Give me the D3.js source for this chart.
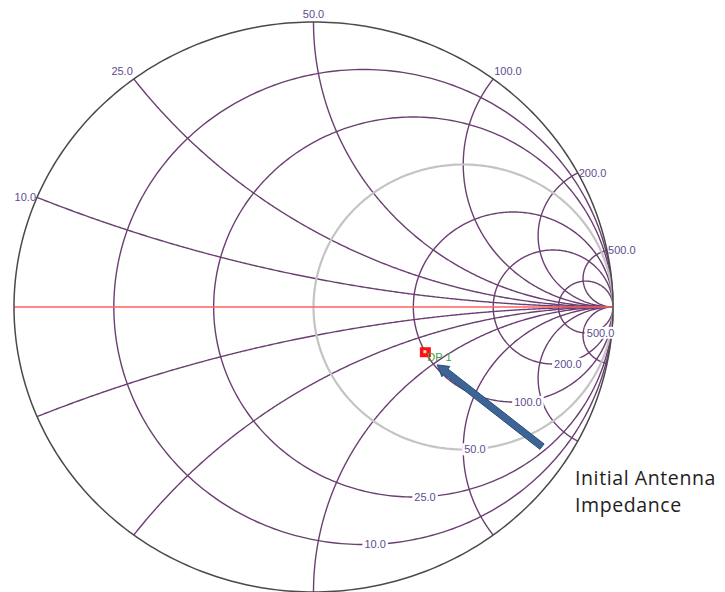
<!DOCTYPE html>
<html>
<head>
<meta charset="utf-8">
<script src="https://cdn.jsdelivr.net/npm/d3@7"></script>
<style>
  body { margin: 0; background: #fff; }
  svg { display: block; }
</style>
</head>
<body>
<script>
// chart values (ohms, Z0 = 50)
const z0 = 50;
const resistances = [10, 25, 50, 100, 200, 500];
const resistanceLabels = ["10.0", "25.0", "50.0", "100.0", "200.0", "500.0"];
const reactances = [10, 25, 50, 100, 200, 500];
const reactanceLabels = ["10.0", "25.0", "50.0", "100.0", "200.0", "500.0"];
const highlighted = [50];           // grey circle
const markerNames = ["DP 1"];
const markerR = [100];
const markerX = [-38];
// arrow annotation, in reflection-coefficient units
const arrowFrom = [0.763, -0.49];
const arrowTo = [0.413, -0.203];
const noteLines = ["Initial Antenna", "Impedance"];

const width = 725, height = 592;
const svg = d3.select("body").append("svg")
    .attr("width", width)
    .attr("height", height);

const x = d3.scaleLinear().domain([-1, 1]).range([14, 613]);
const y = d3.scaleLinear().domain([-1, 1]).range([592, 22]);

const line = d3.line()
    .x(function(d) { return x(d[0]); })
    .y(function(d) { return y(d[1]); });

// z (normalised) -> gamma
function gamma(r, xx) {
    var dr = r + 1, den = dr * dr + xx * xx;
    var nr = r - 1;
    return [(nr * dr + xx * xx) / den, (xx * dr - nr * xx) / den];
}

function resistanceCircle(r) {
    var c = r / (1 + r), rad = 1 / (1 + r);
    return d3.range(0, 361, 1).map(function(a) {
        var t = a * Math.PI / 180;
        return [c + rad * Math.cos(t), rad * Math.sin(t)];
    });
}

function reactanceArc(xx) {
    var pts = d3.range(0, 90, 0.25).map(function(a) {
        return gamma(Math.tan(a * Math.PI / 180), xx);
    });
    pts.push([1, 0]);
    return pts;
}

const gridColor = "#6b3f72";
const labelColor = "#5e4c8e";

// reactance arcs (+ and -)
const arcs = [];
reactances.forEach(function(v) { arcs.push(v / z0); arcs.push(-v / z0); });
svg.selectAll("path.xarc")
    .data(arcs)
    .enter().append("path")
    .attr("class", "xarc")
    .attr("d", function(d) { return line(reactanceArc(d)); })
    .attr("fill", "none")
    .attr("stroke", gridColor)
    .attr("stroke-width", 1.4);

// resistance circles
svg.selectAll("path.rcirc")
    .data(resistances.filter(function(d) { return highlighted.indexOf(d) < 0; }))
    .enter().append("path")
    .attr("class", "rcirc")
    .attr("d", function(d) { return line(resistanceCircle(d / z0)); })
    .attr("fill", "none")
    .attr("stroke", gridColor)
    .attr("stroke-width", 1.4);

svg.selectAll("path.hl")
    .data(highlighted)
    .enter().append("path")
    .attr("class", "hl")
    .attr("d", function(d) { return line(resistanceCircle(d / z0)); })
    .attr("fill", "none")
    .attr("stroke", "#c4c4c4")
    .attr("stroke-width", 2.2);

// real axis
svg.append("path")
    .attr("d", line([[-1, 0], [1, 0]]))
    .attr("stroke", "#ff6060")
    .attr("stroke-width", 1.6);

// outer circle
svg.append("path")
    .attr("d", line(resistanceCircle(0)))
    .attr("fill", "none")
    .attr("stroke", "#4a4a4a")
    .attr("stroke-width", 1.5);

// resistance labels (bottom of each circle, white box behind)
var rl = svg.selectAll("g.rlab")
    .data(resistances)
    .enter().append("g")
    .attr("class", "rlab");
rl.append("text")
    .attr("x", function(d) { var r = d / z0; return x(r / (1 + r)) + 1; })
    .attr("y", function(d) { var r = d / z0; return y(-1 / (1 + r)); })
    .attr("dy", "0.35em")
    .attr("font-family", "Liberation Sans, Arial, sans-serif")
    .attr("font-size", 11)
    .attr("fill", labelColor)
    .text(function(d, i) { return resistanceLabels[i]; });
rl.each(function() {
    var g = d3.select(this);
    var b = g.select("text").node().getBBox();
    g.insert("rect", "text")
        .attr("x", b.x - 2).attr("y", b.y)
        .attr("width", b.width + 4).attr("height", b.height)
        .attr("fill", "#fff");
});

// reactance labels at the rim
svg.selectAll("text.xlab")
    .data(reactances)
    .enter().append("text")
    .attr("class", "xlab")
    .attr("x", function(d) {
        var p = gamma(0, d / z0);
        var px = x(p[0]);
        return Math.abs(p[0]) < 0.05 ? px : (p[0] < 0 ? px - 1 : px + 1);
    })
    .attr("y", function(d) {
        var p = gamma(0, d / z0);
        return y(p[1]) - (p[1] > 0.5 ? 4 : 0);
    })
    .attr("text-anchor", function(d) {
        var p = gamma(0, d / z0);
        return Math.abs(p[0]) < 0.05 ? "middle" : (p[0] < 0 ? "end" : "start");
    })
    .attr("dy", function(d) {
        var p = gamma(0, d / z0);
        return p[1] > 0.5 ? "0" : "0.35em";
    })
    .attr("font-family", "Liberation Sans, Arial, sans-serif")
    .attr("font-size", 11)
    .attr("fill", labelColor)
    .text(function(d, i) { return reactanceLabels[i]; });

// marker
var mk = svg.selectAll("g.mk")
    .data(markerNames)
    .enter().append("g")
    .attr("class", "mk")
    .attr("transform", function(d, i) {
        var p = gamma(markerR[i] / z0, markerX[i] / z0);
        return "translate(" + x(p[0]) + "," + y(p[1]) + ")";
    });
mk.append("rect")
    .attr("x", -5.5).attr("y", -5)
    .attr("width", 11).attr("height", 10)
    .attr("fill", "#ff1010");
mk.append("rect")
    .attr("x", -2).attr("y", -2)
    .attr("width", 3).attr("height", 3)
    .attr("fill", "#ddd");
mk.append("text")
    .attr("x", 2).attr("y", 9)
    .attr("font-family", "Liberation Sans, Arial, sans-serif")
    .attr("font-size", 11)
    .attr("fill", "#3f9f45")
    .text(function(d) { return d; });

// arrow
var ax1 = x(arrowFrom[0]), ay1 = y(arrowFrom[1]);
var ax2 = x(arrowTo[0]), ay2 = y(arrowTo[1]);
var ang = Math.atan2(ay2 - ay1, ax2 - ax1);
var headLen = 11, headW = 6.5, shaft = 3.4;
var bx = ax2 - headLen * Math.cos(ang), by = ay2 - headLen * Math.sin(ang);
var nx = -Math.sin(ang), ny = Math.cos(ang);
var arrowPts = [
    [ax1 + nx * shaft, ay1 + ny * shaft],
    [bx + nx * shaft, by + ny * shaft],
    [bx + nx * headW, by + ny * headW],
    [ax2, ay2],
    [bx - nx * headW, by - ny * headW],
    [bx - nx * shaft, by - ny * shaft],
    [ax1 - nx * shaft, ay1 - ny * shaft]
];
svg.append("polygon")
    .attr("points", arrowPts.map(function(p) { return p.join(","); }).join(" "))
    .attr("fill", "#3c6496")
    .attr("stroke", "#2c4d78")
    .attr("stroke-width", 1);

// note
svg.selectAll("text.note")
    .data(noteLines)
    .enter().append("text")
    .attr("class", "note")
    .attr("x", 575)
    .attr("y", function(d, i) { return 485 + i * 27; })
    .attr("font-family", "Open Sans, sans-serif")
    .attr("font-size", 19.5)
    .attr("letter-spacing", 0.6)
    .attr("fill", "#222")
    .text(function(d) { return d; });
</script>
</body>
</html>
